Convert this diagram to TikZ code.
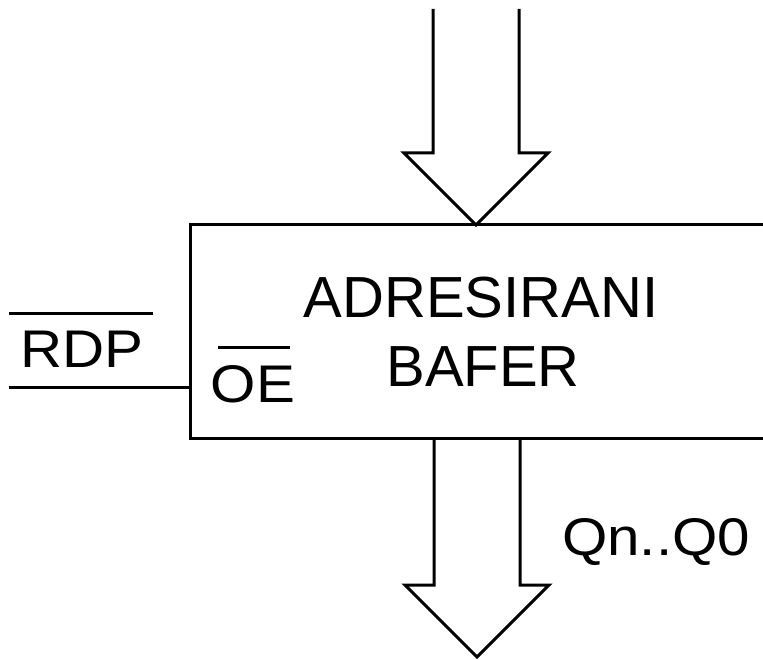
\documentclass[tikz,border=0pt]{standalone}
\usepackage{fontspec}
\setmainfont{Liberation Sans}
\begin{document}
\begin{tikzpicture}[x=1pt,y=-1pt,
  wire/.style={line width=3pt,line cap=butt},
  bigtext/.style={font=\fontsize{58}{69}\selectfont,inner sep=0pt,anchor=base},
  sigtext/.style={font=\fontsize{53}{64}\selectfont,inner sep=0pt,anchor=base,xscale=1.1}]
\useasboundingbox (0,0) rectangle (763,660);
% block outline (open to the right)
\coordinate (tr) at (763,225);
\coordinate (tl) at (190,225);
\coordinate (bl) at (190,438);
\coordinate (br) at (763,438);
\coordinate (pin) at (190,387);
\draw[wire] (tr) -- (tl) -- (bl) -- (br);
% texts
\node[bigtext] (t1) at (481,317) {ADRESIRANI};
\node[bigtext] (t2) at (483,386) {BAFER};
\node[sigtext] (rdp) at (82,367) {RDP};
\node[sigtext] (oe) at (253,402) {OE};
\node[sigtext] (q) at (656,555) {Qn..Q0};
% overlines
\draw[wire] (9,314) -- (153,314);
\draw[wire] (218,347) -- (290,347);
% input line
\coordinate (rin) at (9,387);
\draw[wire] (rin) -- (pin);
% top bus arrow
\draw[wire,line join=miter] (433,9) -- (433,153) -- (404,153) -- (476,225) -- (548,153) -- (519,153) -- (519,9);
% bottom bus arrow
\draw[wire,line join=miter] (434,438) -- (434,585) -- (405,585) -- (477,657) -- (549,585) -- (520,585) -- (520,438);
\end{tikzpicture}
\end{document}
